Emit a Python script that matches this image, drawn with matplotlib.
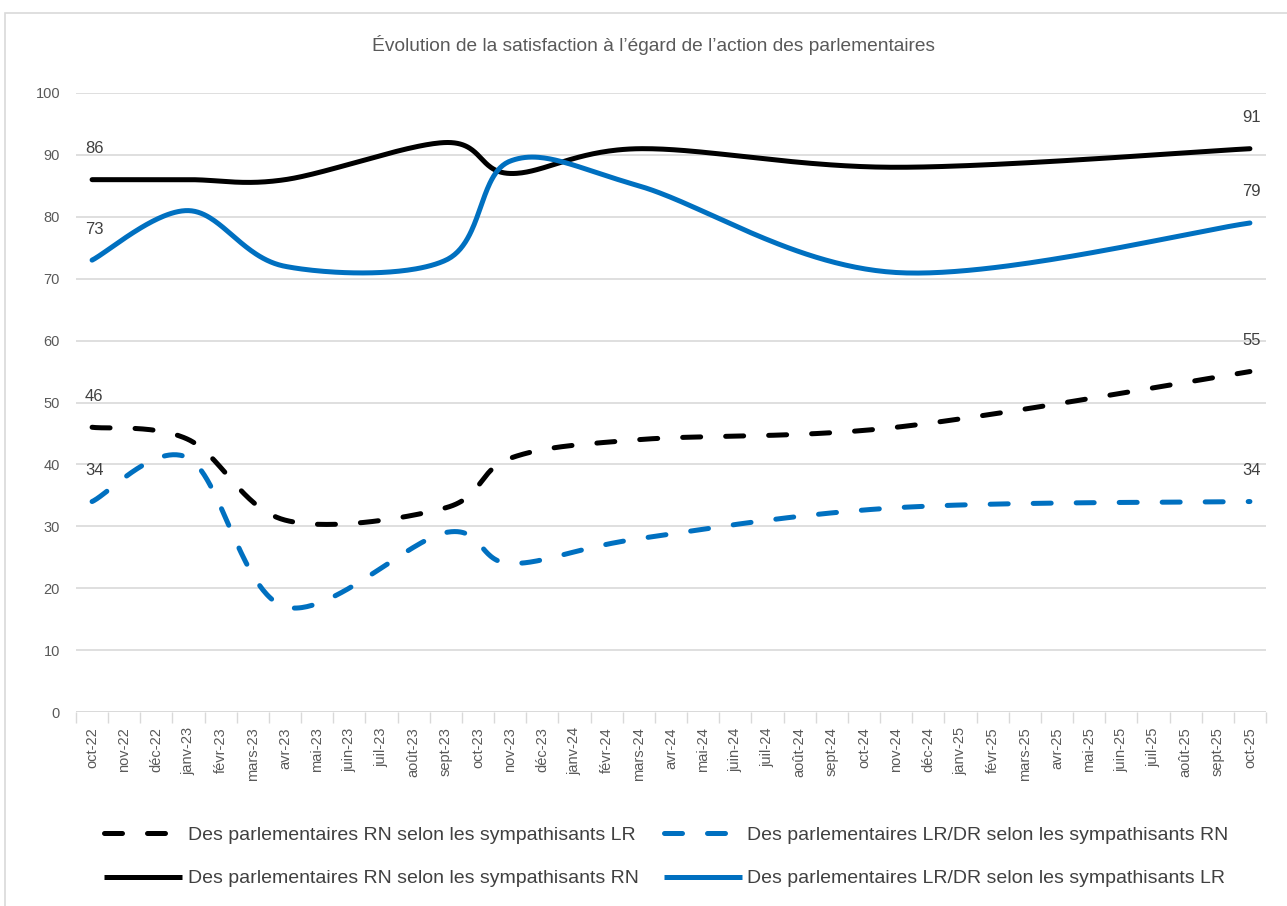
import matplotlib
matplotlib.use("Agg")
import matplotlib.pyplot as plt
from matplotlib.lines import Line2D
from matplotlib.patches import Rectangle
from matplotlib.ticker import FixedLocator
import numpy as np

# ---------------- data ----------------
months = ['oct-22', 'nov-22', 'déc-22', 'janv-23', 'févr-23', 'mars-23', 'avr-23',
          'mai-23', 'juin-23', 'juil-23', 'août-23', 'sept-23', 'oct-23', 'nov-23',
          'déc-23', 'janv-24', 'févr-24', 'mars-24', 'avr-24', 'mai-24', 'juin-24',
          'juil-24', 'août-24', 'sept-24', 'oct-24', 'nov-24', 'déc-24', 'janv-25',
          'févr-25', 'mars-25', 'avr-25', 'mai-25', 'juin-25', 'juil-25', 'août-25',
          'sept-25', 'oct-25']

survey_months = ['oct-22', 'janv-23', 'avr-23', 'sept-23', 'nov-23', 'mars-24', 'nov-24', 'oct-25']

rn_selon_lr = [46, 44, 31, 33, 41, 44, 46, 55]          # black dashed
lrdr_selon_rn = [34, 41, 17, 29, 24, 28, 33, 34]        # blue dashed
rn_selon_rn = [86, 86, 86, 92, 87, 91, 88, 91]          # black solid
lrdr_selon_lr = [73, 81, 72, 73, 89, 85, 71, 79]        # blue solid

series_labels = ['Des parlementaires RN selon les sympathisants LR',
                 'Des parlementaires LR/DR selon les sympathisants RN',
                 'Des parlementaires RN selon les sympathisants RN',
                 'Des parlementaires LR/DR selon les sympathisants LR']

title = 'Évolution de la satisfaction à l’égard de l’action des parlementaires'

# ---------------- helpers ----------------
def excel_smooth(xs, ys, n=60):
    """Excel-like smoothed line (cubic Bezier, Catmull-Rom control points)."""
    P = np.column_stack([xs, ys]).astype(float)
    m = len(P)
    out = []
    for i in range(m - 1):
        p0 = P[i - 1] if i > 0 else P[i]
        p1 = P[i]
        p2 = P[i + 1]
        p3 = P[i + 2] if i + 2 < m else P[i + 1]
        c1 = p1 + (p2 - p0) / 6.0
        c2 = p2 - (p3 - p1) / 6.0
        t = np.linspace(0, 1, n)[:, None]
        seg = ((1 - t) ** 3) * p1 + 3 * ((1 - t) ** 2) * t * c1 + 3 * (1 - t) * t ** 2 * c2 + t ** 3 * p2
        if i > 0:
            seg = seg[1:]
        out.append(seg)
    out = np.vstack(out)
    return out[:, 0], out[:, 1]

FONT = ['Liberation Sans', 'DejaVu Sans']

# ---------------- figure ----------------
W, H = 1287, 906
fig = plt.figure(figsize=(W / 100, H / 100), dpi=100)
fig.patch.set_facecolor('white')

# chart border
fig.patches.append(Rectangle((5 / W, -0.05), 1.2, 1 - 13 / H + 0.05, transform=fig.transFigure,
                             fill=False, edgecolor='#D9D9D9', linewidth=1.2))

ax = fig.add_axes([76 / W, 1 - 712 / H, (1266 - 76) / W, (712 - 93) / H])

xs = [months.index(m) for m in survey_months]

BLACK = '#000000'
BLUE = '#0070C0'
LW = 3.6
DASH = (3.6, 5.0)

styles = [
    (rn_selon_lr, BLACK, True),
    (lrdr_selon_rn, BLUE, True),
    (rn_selon_rn, BLACK, False),
    (lrdr_selon_lr, BLUE, False),
]

handles = []
for (vals, col, dashed), lab in zip(styles, series_labels):
    sx, sy = excel_smooth(xs, vals)
    if dashed:
        ax.plot(sx, sy, color=col, lw=LW, linestyle=(0, DASH),
                dash_capstyle='round', solid_capstyle='round', zorder=3)
    else:
        ax.plot(sx, sy, color=col, lw=LW, solid_capstyle='round', zorder=3)
    handles.append(Line2D([], [], color=col, lw=LW,
                          linestyle=(0, DASH) if dashed else '-',
                          dash_capstyle='round', solid_capstyle='butt', label=lab))
    # data labels at first and last point
    for xi, yi in [(xs[0], vals[0]), (xs[-1], vals[-1])]:
        ax.annotate(f'{yi:g}', (xi, yi), xytext=(2, 31), textcoords='offset pixels',
                    ha='center', va='center', fontsize=12, color='#404040',
                    family=FONT, zorder=4)

ax.set_xlim(-0.5, len(months) - 0.5)
ax.set_ylim(0, 100)

ax.set_yticks(np.arange(0, 101, 10))
ax.yaxis.grid(True, color='#D9D9D9', linewidth=1.2, zorder=0)
ax.set_axisbelow(True)
for s in ['top', 'right', 'left', 'bottom']:
    ax.spines[s].set_visible(False)

ax.set_xticks(range(len(months)))
ax.set_xticklabels(months, rotation=90)
ax.xaxis.set_minor_locator(FixedLocator(np.arange(-0.5, len(months), 1.0)))
ax.tick_params(axis='x', which='major', length=0, pad=11, labelsize=10.5, labelcolor='#595959')
ax.tick_params(axis='x', which='minor', length=8, width=1.0, color='#D9D9D9')
ax.tick_params(axis='y', length=0, pad=11.5, labelsize=10.5, labelcolor='#595959')
for lab in ax.get_xticklabels() + ax.get_yticklabels():
    lab.set_family(FONT)
ax.axhline(0, color='#D9D9D9', lw=1.2, zorder=1)

fig.text(654 / W, 1 - 45 / H, title, ha='center', va='center', fontsize=13.8, color='#595959',
         family=FONT)

order = [0, 2, 1, 3]
leg = fig.legend([handles[i] for i in order], [series_labels[i] for i in order],
                 ncol=2, loc='upper left', bbox_to_anchor=(104 / W, 1 - 826 / H),
                 frameon=False, handlelength=4.0, handletextpad=0.3, columnspacing=1.3,
                 labelspacing=1.35, borderpad=0, borderaxespad=0,
                 prop={'family': FONT, 'size': 14})
for t in leg.get_texts():
    t.set_color('#404040')

fig.savefig('out.png', dpi=100, facecolor='white')
